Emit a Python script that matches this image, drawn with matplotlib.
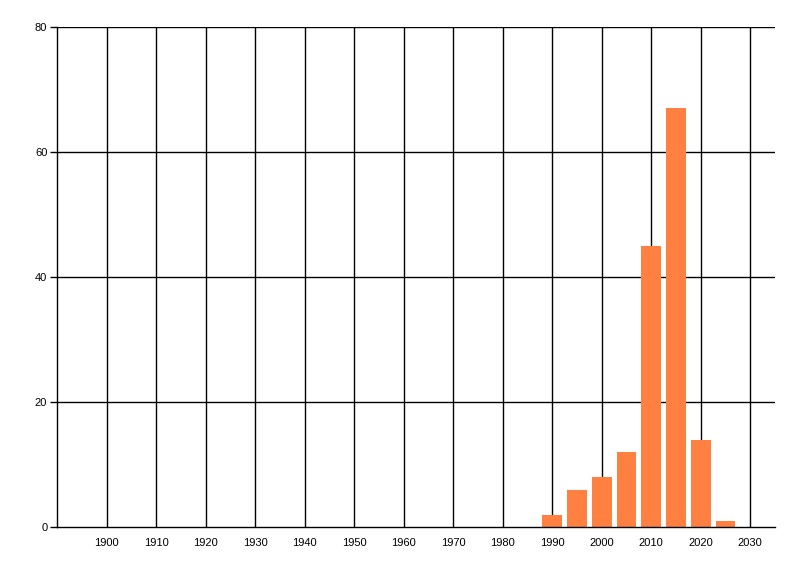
import matplotlib
matplotlib.use("Agg")
import matplotlib.pyplot as plt

plt.rcParams['font.family'] = ['Liberation Sans', 'DejaVu Sans']

years = [1990, 1995, 2000, 2005, 2010, 2015, 2020, 2025]
counts = [2, 6, 8, 12, 45, 67, 14, 1]
xticks = list(range(1900, 2031, 10))
yticks = [0, 20, 40, 60, 80]

fig = plt.figure(figsize=(8, 5.76), dpi=100)
ax = fig.add_axes([57/800, 49/576, 718/800, 500/576])
ax.set_xlim(1890, 2035)
ax.set_ylim(0, 80)

for x in xticks:
    ax.axvline(x, color="black", lw=1, zorder=1)
for y in yticks[1:]:
    ax.axhline(y, color="black", lw=1, zorder=1)

ax.bar(years, counts, width=4, color="#FF8040", zorder=2)

ax.set_xticks(xticks)
ax.set_yticks(yticks)
ax.tick_params(axis="x", length=0, pad=8, labelsize=8)
ax.tick_params(axis="y", length=5, width=1, pad=2, labelsize=8)
for s in ["top", "right"]:
    ax.spines[s].set_visible(False)
for s in ["left", "bottom"]:
    ax.spines[s].set_linewidth(1)
    ax.spines[s].set_zorder(3)

fig.savefig("out.png", dpi=100)
